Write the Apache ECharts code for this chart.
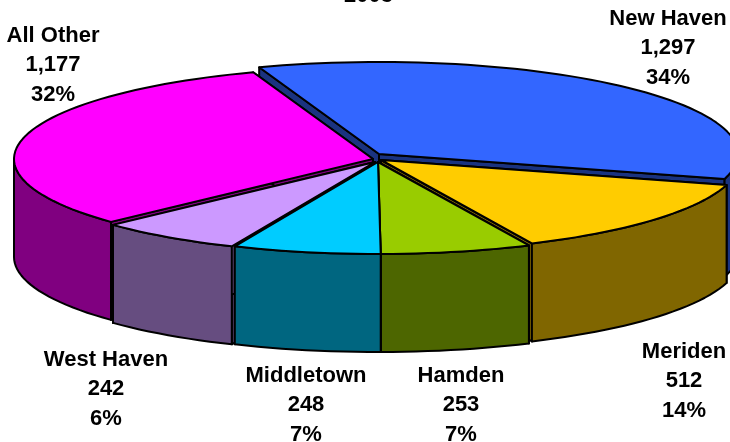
<!DOCTYPE html>
<html>
<head>
<meta charset="utf-8">
<style>
  html, body { margin: 0; padding: 0; background: #fff; }
  #chart { width: 730px; height: 442px; overflow: hidden; }
</style>
<script src="https://cdn.jsdelivr.net/npm/echarts@6/dist/echarts.min.js"></script>
</head>
<body>
<div id="chart"></div>
<script>
// data
const categories = ['New Haven', 'Meriden', 'Hamden', 'Middletown', 'West Haven', 'All Other']
const values = [1297, 512, 253, 248, 242, 1177]
const percents = ['34%', '14%', '7%', '7%', '6%', '32%']
const titleText = '2003'

// colours
const topColors = ['#3366ff', '#ffcc00', '#99cc00', '#00ccff', '#cc99ff', '#ff00ff']
const sideColors = ['#1a3380', '#806600', '#4d6600', '#006680', '#664d80', '#800080']

// layout of the disc
const centerX = 377
const centerY = 158
const radiusX = 359
const radiusY = 92
const depth = 98
const startAngle = -19.5
// small gap each slice is pulled away from the centre
const offsetX = [2, 4, 1, 1, -2, -4]
const offsetY = [-4, 2, 4, 4, 4, 1]
const labelX = [668, 684, 461, 306, 106, 53]
const labelY = [48, 381, 405, 405, 389, 65]
// back slices first so the front ones paint over them
const drawOrder = [0, 5, 1, 4, 2, 3]

const total = values.reduce((a, b) => a + b, 0)
const angles = []
let running = startAngle
values.forEach(v => {
  const sweep = v / total * 360
  angles.push([running, running + sweep])
  running += sweep
})

const rad = d => d * Math.PI / 180

function arcPoints(a, b, cx, cy) {
  const pts = []
  const n = Math.max(2, Math.ceil((b - a) / 2))
  for (let i = 0; i <= n; i++) {
    const t = rad(a + (b - a) * i / n)
    pts.push([cx + radiusX * Math.sin(t), cy - radiusY * Math.cos(t)])
  }
  return pts
}

function poly(points, fill) {
  return {
    type: 'polygon',
    shape: { points },
    style: { fill, stroke: '#000', lineWidth: 2, lineJoin: 'round' }
  }
}

function renderSlice(params, api) {
  const idx = api.value(0)
  const a = angles[idx][0]
  const b = angles[idx][1]
  const cx = centerX + offsetX[idx]
  const cy = centerY + offsetY[idx]
  const rim = arcPoints(a, b, cx, cy)
  const first = rim[0]
  const last = rim[rim.length - 1]
  const side = sideColors[idx]
  const children = []
  // radial walls
  children.push(poly([[cx, cy], first, [first[0], first[1] + depth], [cx, cy + depth]], side))
  children.push(poly([[cx, cy], last, [last[0], last[1] + depth], [cx, cy + depth]], side))
  // outer wall, only the front half of the disc shows
  const fa = Math.max(a, 90)
  const fb = Math.min(b, 270)
  if (fb > fa) {
    const upper = arcPoints(fa, fb, cx, cy)
    const lower = arcPoints(fa, fb, cx, cy + depth).reverse()
    children.push(poly(upper.concat(lower), side))
  }
  // top face
  children.push(poly([[cx, cy]].concat(rim), topColors[idx]))
  // label
  children.push({
    type: 'text',
    z2: 100,
    style: {
      x: labelX[idx],
      y: labelY[idx],
      text: categories[idx] + '\n' + echarts.format.addCommas(values[idx]) + '\n' + percents[idx],
      fill: '#000',
      font: 'bold 22px "Liberation Sans", Arial, sans-serif',
      lineHeight: 29.5,
      align: 'center',
      verticalAlign: 'middle'
    }
  })
  return { type: 'group', children }
}

const chart = echarts.init(document.getElementById('chart'), null, { renderer: 'canvas' })
chart.setOption({
  animation: false,
  backgroundColor: '#fff',
  title: {
    text: titleText,
    left: 344,
    top: -15,
    padding: 0,
    textStyle: {
      color: '#000',
      fontFamily: '"Liberation Sans", Arial, sans-serif',
      fontWeight: 'bold',
      fontSize: 22
    }
  },
  series: [{
    type: 'custom',
    coordinateSystem: 'none',
    silent: true,
    data: drawOrder.map(i => [i, values[i]]),
    renderItem: renderSlice
  }]
})
window.addEventListener('resize', chart.resize)
</script>
</body>
</html>
